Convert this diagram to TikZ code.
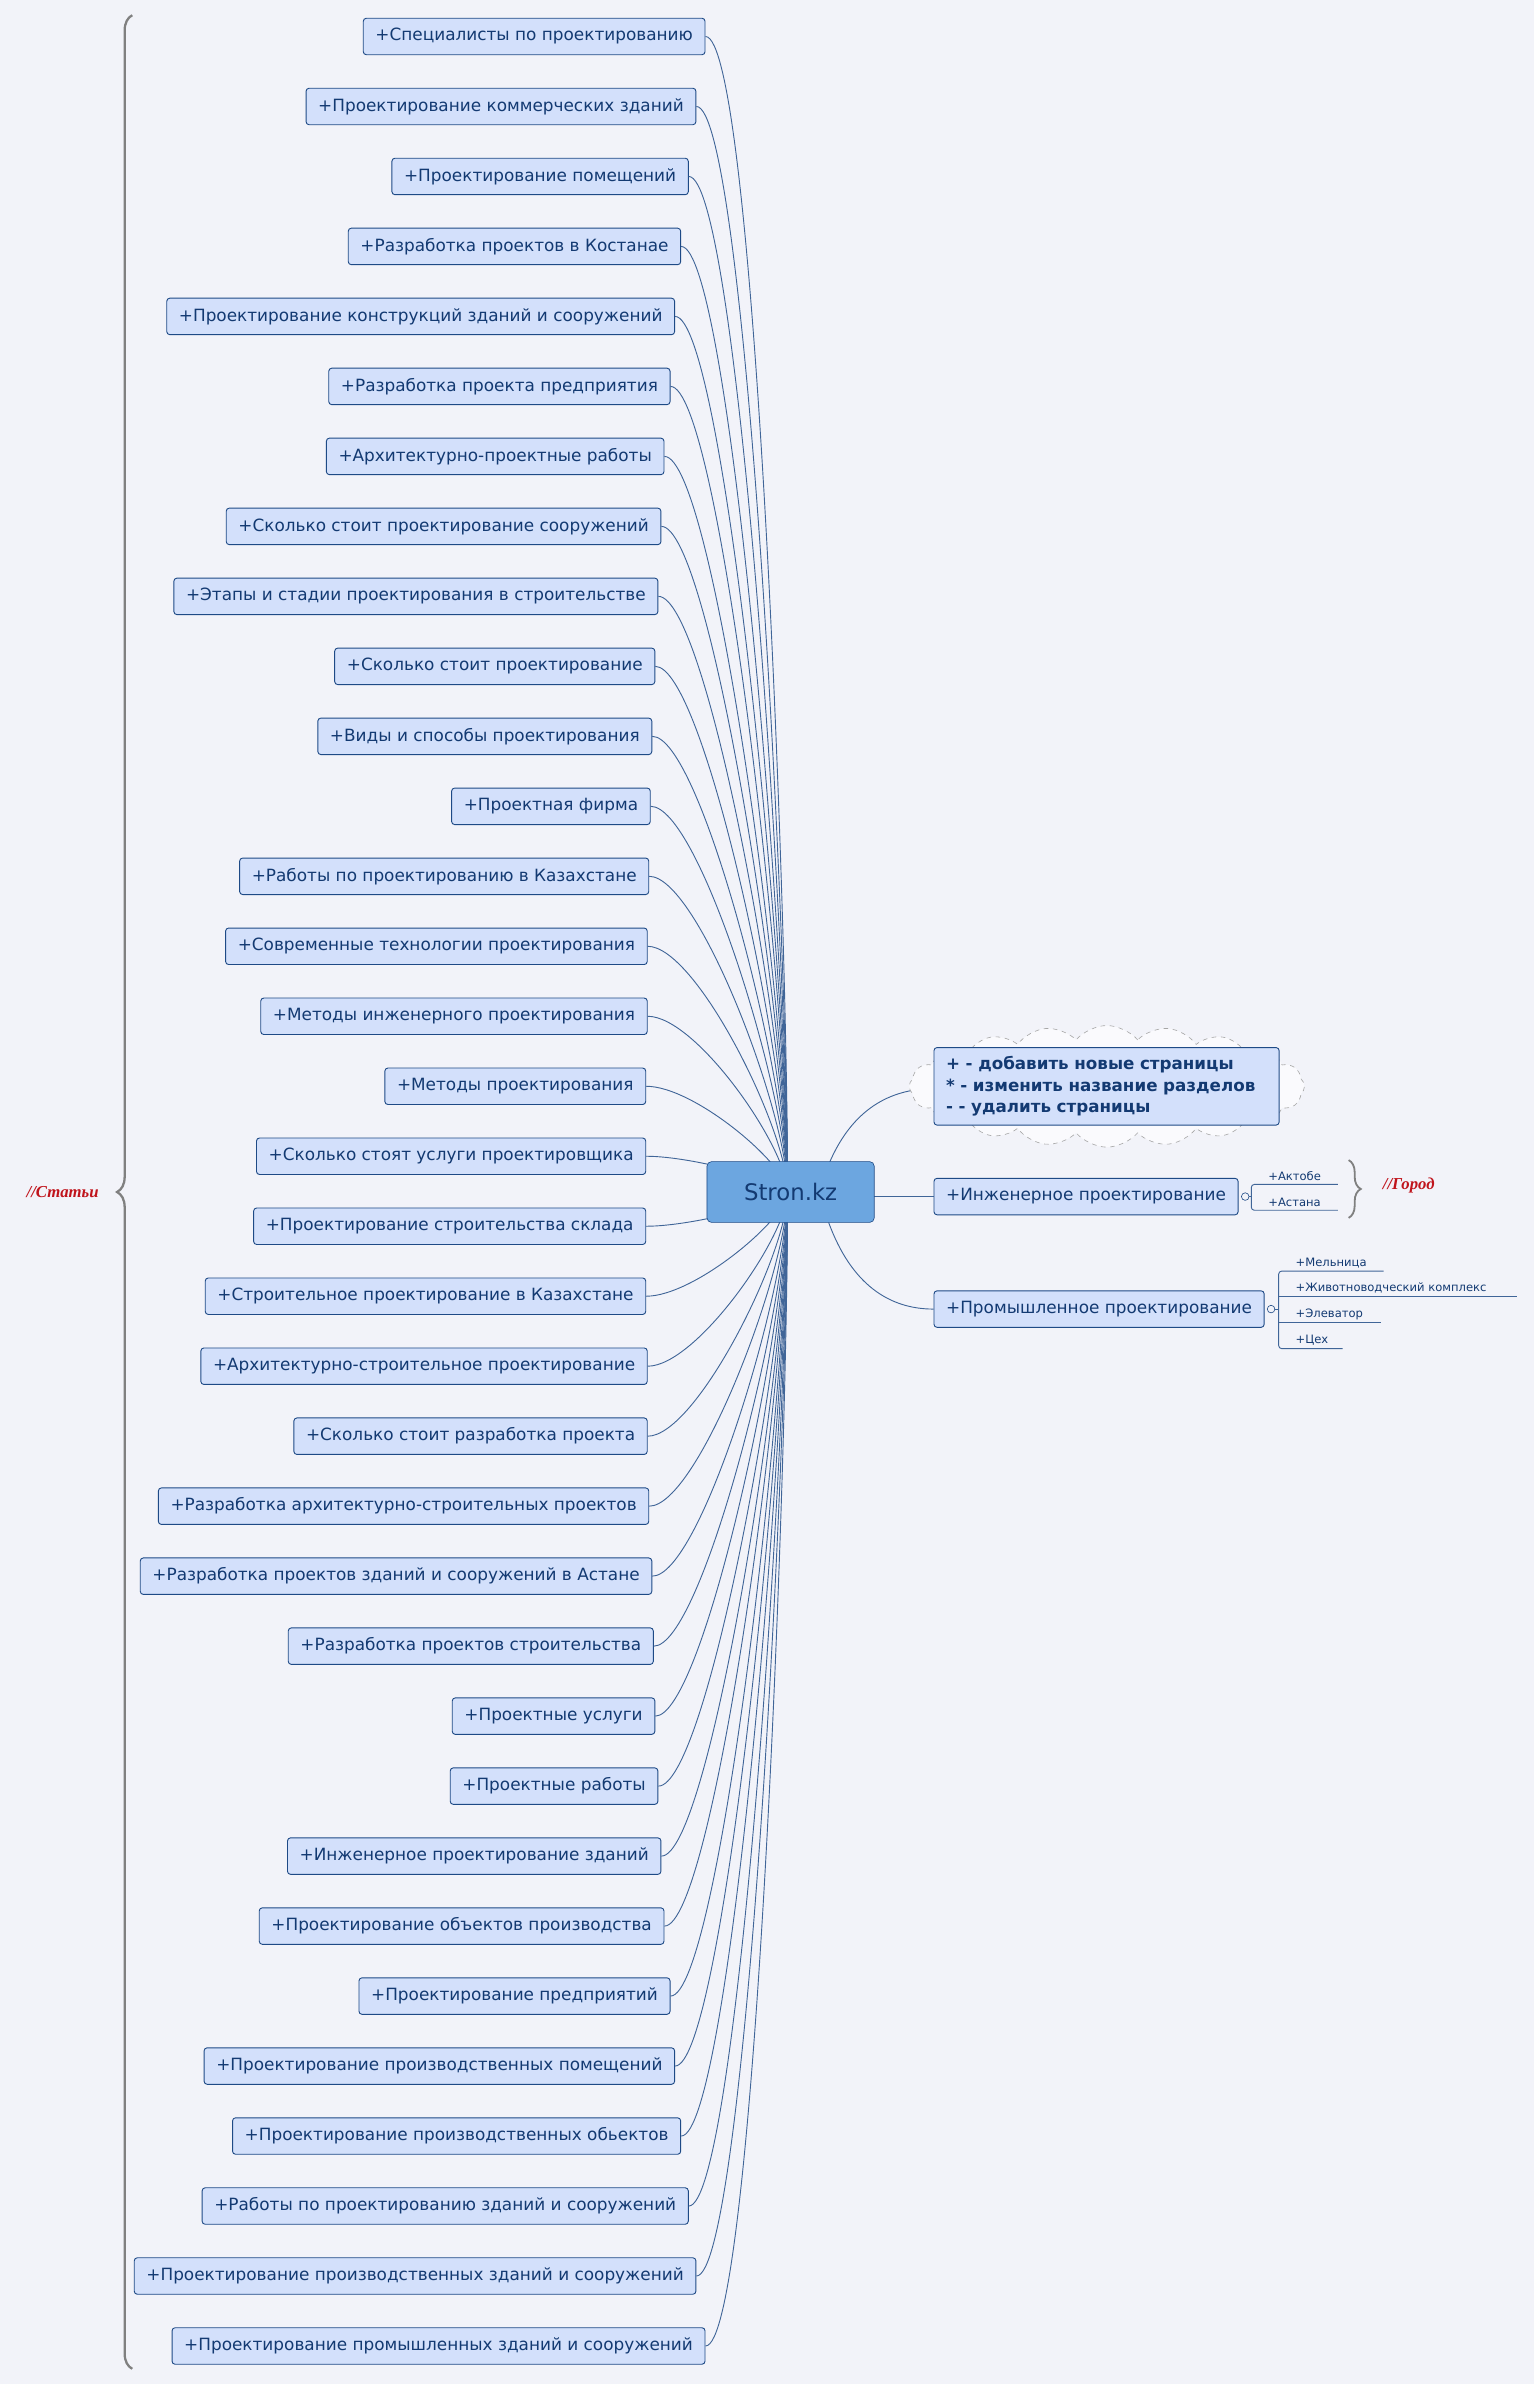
\documentclass[tikz,border=0pt]{standalone}
\usepackage{fontspec}
\setmainfont{DejaVu Sans}
\newfontfamily\redf{Liberation Serif}
\usetikzlibrary{shapes.symbols,decorations.pathreplacing}
\definecolor{bg}{HTML}{F2F3F9}
\definecolor{bfill}{HTML}{D3E0FB}
\definecolor{bline}{HTML}{1E4A86}
\definecolor{btext}{HTML}{133A72}
\definecolor{cfill}{HTML}{6CA6E0}
\definecolor{lab}{HTML}{C0141C}
\begin{document}
\begin{tikzpicture}[x=1pt,y=-1pt,
  box/.style={draw=bline,fill=bfill,rounded corners=2pt,minimum height=24pt,inner xsep=8pt,text=btext,font=\fontsize{11.1}{13}\selectfont,line width=0.6pt},
  conn/.style={draw=bline!85,line width=0.6pt},
  small/.style={text=btext,font=\fontsize{7.6}{9}\selectfont,anchor=south west,inner sep=1pt},
  redlab/.style={text=lab,font=\redf\bfseries\itshape\fontsize{11}{12}\selectfont}]
\fill[bg] (0,0) rectangle (1009,1568);
\useasboundingbox (0,0) rectangle (1009,1568);
\coordinate (hub) at (518,784);
\foreach \i/\r/\t [count=\k from 0] in {
1/464/{Специалисты по проектированию},
2/458/{Проектирование коммерческих зданий},
3/453/{Проектирование помещений},
4/448/{Разработка проектов в Костанае},
5/444/{Проектирование конструкций зданий и сооружений},
6/441/{Разработка проекта предприятия},
7/437/{Архитектурно-проектные работы},
8/435/{Сколько стоит проектирование сооружений},
9/433/{Этапы и стадии проектирования в строительстве},
10/431/{Сколько стоит проектирование},
11/429/{Виды и способы проектирования},
12/428/{Проектная фирма},
13/427/{Работы по проектированию в Казахстане},
14/426/{Современные технологии проектирования},
15/426/{Методы инженерного проектирования},
16/425/{Методы проектирования},
17/425/{Сколько стоят услуги проектировщика},
18/425/{Проектирование строительства склада},
19/425/{Строительное проектирование в Казахстане},
20/426/{Архитектурно-строительное проектирование},
21/426/{Сколько стоит разработка проекта},
22/427/{Разработка архитектурно-строительных проектов},
23/429/{Разработка проектов зданий и сооружений в Астане},
24/430/{Разработка проектов строительства},
25/431/{Проектные услуги},
26/433/{Проектные работы},
27/435/{Инженерное проектирование зданий},
28/437/{Проектирование объектов производства},
29/441/{Проектирование предприятий},
30/444/{Проектирование производственных помещений},
31/448/{Проектирование производственных обьектов},
32/453/{Работы по проектированию зданий и сооружений},
33/458/{Проектирование производственных зданий и сооружений},
34/464/{Проектирование промышленных зданий и сооружений}}{
  \pgfmathsetmacro\yy{24+\k*46.03}
  \node[box,anchor=east] (b\i) at (\r,\yy) {+\t};
  \pgfmathsetmacro\ym{0.25*\yy+0.75*784}
  \draw[conn] (b\i.east) .. controls +(32,0) and (518,\ym) .. (hub);
}
% right side connectors
\draw[conn] (545,766) .. controls (560,730) and (585,716) .. (614,716);
\draw[conn] (575,787) -- (614,787);
\draw[conn] (545,804) .. controls (560,845) and (585,861) .. (614,861);
\node[draw=bline,fill=cfill,rounded corners=3pt,minimum width=110pt,minimum height=40pt,text=btext,font=\fontsize{15}{18}\selectfont] (c) at (520,784) {Stron.kz};
% cloud note
\node[cloud,cloud puffs=20,cloud puff arc=100,aspect=3.2,draw=gray!70,dashed,fill=white!60!bg,minimum width=260pt,minimum height=80pt] (cl) at (728,714.5) {};
\node[box,anchor=west,align=left,font=\bfseries\fontsize{11}{14}\selectfont,text width=211pt,minimum height=51pt,inner xsep=8pt] (note) at (614,714.5) {+ - добавить новые страницы\\{*} - изменить название разделов\\- - удалить страницы};
% engineering
\node[box,anchor=west] (eng) at (614,787) {+Инженерное проектирование};
\node[draw=bline,fill=bg,circle,inner sep=0pt,minimum size=5pt] (eo) at (819,787) {};
\draw[conn,rounded corners=2pt] (880,779) -- (823,779) -- (823,796) -- (880,796);
\draw[conn] (eo) -- (823,787);
\node[small] (a1) at (833,778) {+Актобе};
\node[small] (a2) at (833,795) {+Астана};
\draw[gray,line width=1.2pt,decorate,decoration={brace,amplitude=8pt}] (887,763) -- (887,801);
\node[redlab,anchor=west] (gor) at (906,780) {//Город};
% industrial
\node[box,anchor=west] (ind) at (614,861) {+Промышленное проектирование};
\node[draw=bline,fill=bg,circle,inner sep=0pt,minimum size=5pt] (io) at (836,861) {};
\draw[conn,rounded corners=2pt] (910,836) -- (841,836) -- (841,887) -- (883,887);
\draw[conn] (841,853) -- (998,853);
\draw[conn] (841,870) -- (908,870);
\draw[conn] (io) -- (841,861);
\node[small] (m1) at (851,835) {+Мельница};
\node[small] (m2) at (851,852) {+Животноводческий комплекс};
\node[small] (m3) at (851,869) {+Элеватор};
\node[small] (m4) at (851,886) {+Цех};
% left brace
\draw[gray,line width=1.5pt,decorate,decoration={brace,amplitude=10pt}] (87,1558) -- (87,10);
\node[redlab,anchor=west] (st) at (14,784) {//Статьи};
\end{tikzpicture}
\end{document}
